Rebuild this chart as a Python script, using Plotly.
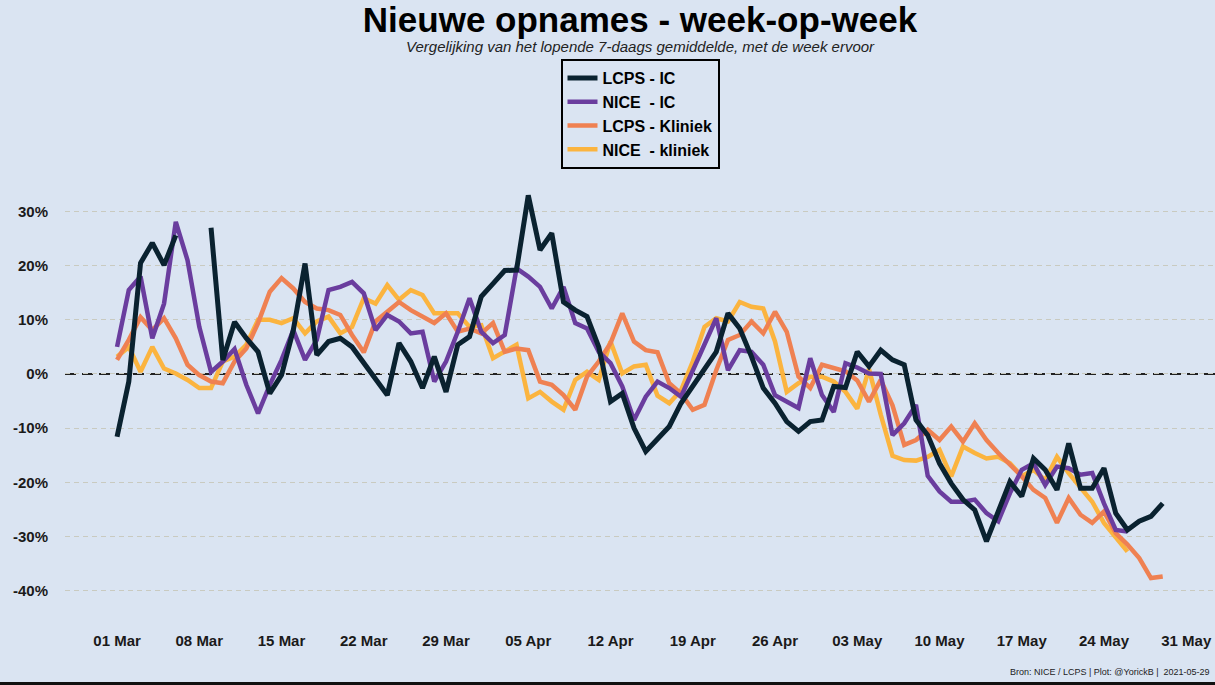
import pandas as pd
import plotly.graph_objects as go

start_date = "2021-03-01"
n_days = 90
dates = pd.date_range(start_date, periods=n_days, freq="D")

series_names = ["LCPS - IC", "NICE  - IC", "LCPS - Kliniek", "NICE  - kliniek"]
series_colors = ["#0a2230", "#6a3d9e", "#ef8152", "#fbb43f"]

lcps_ic = [-11.6, -1.4, 20.5, 24.2, 20.1, 25.6, None, None, 27.0, 2.6,
           9.6, 6.6, 4.1, -3.6, -0.2, 8.1, 20.4, 3.5, 6.0, 6.6,
           5.0, 2.0, -1.0, -3.9, 5.7, 2.3, -2.6, 3.2, -3.3, 5.4,
           6.9, 14.3, 16.7, 19.1, 19.2, 33.0, 22.9, 26.0, 13.3, 11.8,
           10.6, 5.0, -5.1, -3.6, -10.0, -14.3, -12.0, -9.7, -5.4, -2.3,
           0.7, 4.1, 11.2, 8.4, 3.2, -2.6, -5.4, -8.8, -10.6, -8.8,
           -8.5, -2.3, -2.5, 4.1, 1.4, 4.4, 2.6, 1.7, -8.5, -11.3,
           -16.5, -20.2, -23.2, -25.1, -30.9, -25.1, -19.9, -22.6, -15.6, -17.7,
           -21.4, -12.8, -21.1, -21.1, -17.4, -25.7, -28.8, -27.2, -26.3, -23.9]

nice_ic = [5.0, 15.5, 18.0, 6.6, 13.0, 28.1, 21.0, 8.7, 0.4, 2.3,
           4.6, -2.0, -7.3, -2.0, 2.6, 8.1, 2.6, 6.3, 15.5, 16.1,
           17.0, 14.9, 8.1, 10.9, 9.7, 7.5, 7.8, -1.4, 2.3, 7.8,
           14.0, 7.8, 5.7, 7.2, 19.5, 18.0, 16.1, 12.1, 16.1, 9.4,
           8.4, 4.1, 2.0, -2.3, -8.5, -4.2, -1.4, -2.6, -4.2, 0.5,
           5.5, 10.3, 0.7, 4.4, 4.1, 1.7, -3.9, -5.1, -6.3, 2.9,
           -3.9, -7.0, 2.0, 1.2, 0.1, 0.0, -11.3, -9.1, -5.7, -18.8,
           -21.7, -23.6, -23.6, -23.2, -25.7, -27.2, -22.0, -17.7, -16.5, -20.5,
           -17.1, -17.4, -18.6, -18.3, -23.9, -28.8, -29.1]

lcps_kliniek = [2.6, 6.3, 10.5, 8.1, 10.3, 6.6, 1.7, -0.2, -1.4, -1.7,
                2.3, 4.7, 9.4, 15.2, 17.7, 15.8, 13.3, 12.1, 11.8, 10.9,
                7.2, 4.0, 9.7, 11.5, 13.3, 11.8, 10.6, 9.4, 11.2, 7.8,
                8.4, 7.5, 9.4, 4.1, 4.7, 4.4, -1.4, -2.0, -3.9, -6.6,
                -0.5, 2.3, 5.7, 11.2, 6.0, 4.4, 4.0, -1.7, -3.6, -6.6,
                -5.7, 0.7, 6.3, 7.2, 9.7, 7.5, 11.5, 7.8, -0.5, -2.6,
                1.7, 1.0, 0.5, -1.2, -5.1, -1.1, -5.8, -13.1, -12.2, -10.3,
                -12.2, -9.7, -12.5, -9.1, -12.2, -14.6, -16.8, -18.9, -21.4, -22.9,
                -27.5, -22.9, -26.0, -27.5, -25.4, -29.4, -31.5, -34.0, -37.7, -37.4]

nice_kliniek = [3.2, 5.0, 0.4, 5.0, 1.0, 0.1, -1.1, -2.6, -2.6, 2.3,
                3.2, 5.4, 10.0, 10.0, 9.4, 10.3, 7.5, 9.7, 10.6, 7.5,
                8.7, 14.0, 13.0, 16.4, 13.7, 15.5, 14.6, 11.2, 11.2, 11.2,
                8.7, 9.0, 2.9, 4.1, 5.4, -4.5, -3.3, -5.1, -6.6, -1.1,
                0.4, -1.1, 6.0, 0.1, 1.4, 1.7, -4.0, -5.4, -3.0, 2.3,
                8.7, 10.3, 9.7, 13.3, 12.4, 12.1, 6.0, -3.3, -1.7, -0.5,
                -0.5, -1.4, -3.3, -6.4, 0.9, -7.5, -15.1, -15.9, -16.0, -15.3,
                -14.0, -18.9, -13.4, -14.6, -15.6, -15.3, -16.5, -18.9, -17.7, -19.6,
                -15.3, -18.3, -20.8, -23.6, -27.5, -30.3, -32.8]

series_values = [lcps_ic, nice_ic, lcps_kliniek, nice_kliniek]
line_widths = [5, 4.5, 4.5, 4.5]

x_tick_dates = pd.date_range("2021-03-01", "2021-05-31", freq="7D")
y_tick_vals = [-40, -30, -20, -10, 0, 10, 20, 30]
y_tick_text = ["-40%", "-30%", "-20%", "-10%", "0%", "10%", "20%", "30%"]

title_text = "Nieuwe opnames - week-op-week"
subtitle_text = "Vergelijking van het lopende 7-daags gemiddelde, met de week ervoor"
caption_text = "Bron: NICE / LCPS | Plot: @YorickB |  2021-05-29"

bg = "#dae4f2"
font_family = "Liberation Sans, Arial, sans-serif"
text_color = "#1a1a1a"

fig = go.Figure()
# draw in reverse so LCPS - IC ends on top
for name, vals, col, lw in reversed(list(zip(series_names, series_values, series_colors, line_widths))):
    fig.add_trace(go.Scatter(
        x=dates[:len(vals)], y=vals, mode="lines", name=name,
        line=dict(color=col, width=lw), connectgaps=False,
    ))

fig.add_shape(type="line", xref="paper", x0=0, x1=1, yref="y", y0=0, y1=0,
              line=dict(color="#222222", width=2.2, dash="11px,6px"), layer="below")
fig.add_shape(type="rect", xref="paper", x0=-0.06, x1=1.0, yref="paper",
              y0=-0.1455, y1=-0.1365, fillcolor="#111111", line=dict(width=0))

x_left = pd.Timestamp(start_date) - pd.Timedelta(days=4.43)
x_right = pd.Timestamp(start_date) + pd.Timedelta(days=93.45)

fig.update_layout(
    width=1215, height=685,
    paper_bgcolor=bg, plot_bgcolor=bg,
    margin=dict(l=65, r=0, t=165, b=65),
    font=dict(family=font_family, color=text_color),
    title=dict(text=title_text, x=0.5, xref="paper", xanchor="center",
               y=1 - 20 / 685, yref="container", yanchor="middle",
               font=dict(size=35, weight="bold", color="#000000", family=font_family)),
    showlegend=True,
    legend=dict(x=0.5, xanchor="center", y=1.233, yanchor="top",
                bgcolor=bg, bordercolor="#000000", borderwidth=2,
                traceorder="reversed", font=dict(size=16, weight="bold", color="#000000"),
                itemwidth=30),
    xaxis=dict(range=[x_left, x_right], tickvals=list(x_tick_dates), tickformat="%d %b",
               showgrid=False, zeroline=False, showline=False, ticks="",
               tickfont=dict(size=15, weight="bold", color=text_color),
               ticklabelstandoff=10),
    yaxis=dict(range=[-45.44, 38.6], tickvals=y_tick_vals, ticktext=y_tick_text,
               showgrid=True, gridcolor="#c9cac0", gridwidth=1, griddash="5px,4px",
               zeroline=False, showline=False, ticks="",
               tickfont=dict(size=15, weight="bold", color=text_color),
               ticklabelstandoff=16),
    annotations=[
        dict(text=subtitle_text, xref="paper", yref="paper", x=0.5, y=1.2615,
             xanchor="center", yanchor="middle", showarrow=False,
             font=dict(size=15, style="italic", color="#222222")),
        dict(text=caption_text, xref="paper", yref="paper", x=1, xshift=-3, y=-0.114,
             xanchor="right", yanchor="middle", showarrow=False,
             font=dict(size=9, color="#222222")),
    ],
)

fig.write_html("out.html", config={"displayModeBar": False},
               post_script="document.body.style.margin='0';document.body.style.background='" + bg + "';")
